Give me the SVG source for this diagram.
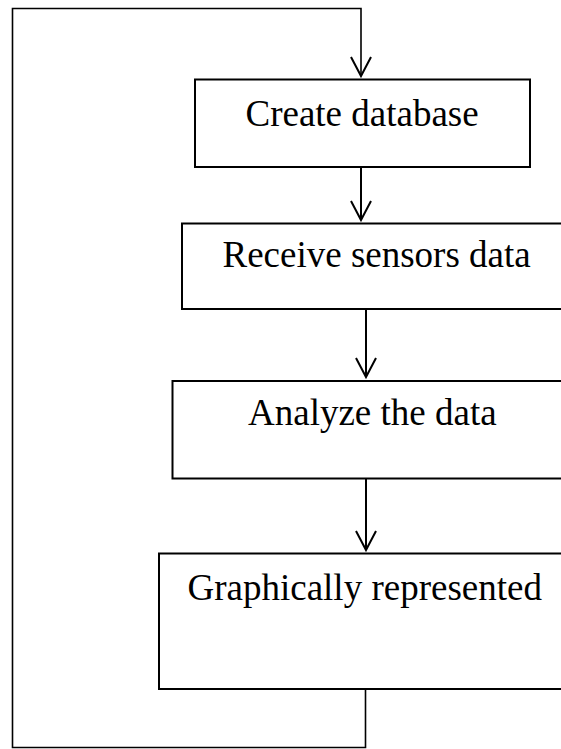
<svg xmlns="http://www.w3.org/2000/svg" width="561" height="749" viewBox="0 0 561 749">
<style>
.box{fill:#fff;stroke:#000;stroke-width:2}
.lbl{font-family:"Liberation Serif","Times New Roman",serif;font-size:37px;fill:#000}
.ln{fill:none;stroke:#000;stroke-width:2}
.loop{fill:none;stroke:#000;stroke-width:1.6}
</style>
<g id="connectors">
<path class="loop" d="M365.5,689 V747.5 H12.5 V8.5 H361 V76"/>
<path class="ln" d="M351,57 L361,76 L371,57"/>
<path class="ln" d="M361,167 V220"/>
<path class="ln" d="M351,201 L361,220 L371,201"/>
<path class="ln" d="M366,309 V377"/>
<path class="ln" d="M356,358 L366,377 L376,358"/>
<path class="ln" d="M366,478 V550"/>
<path class="ln" d="M356,531 L366,550 L376,531"/>
</g>
<g id="node1">
<rect class="box" x="195" y="79.5" width="335" height="87.5"/>
<text class="lbl" x="245.5" y="125.5">Create database</text>
</g>
<g id="node2">
<rect class="box" x="182" y="223.5" width="400" height="85.5"/>
<text class="lbl" x="222.5" y="267">Receive sensors data</text>
</g>
<g id="node3">
<rect class="box" x="172.5" y="381" width="410" height="97.5"/>
<text class="lbl" x="248" y="425">Analyze the data</text>
</g>
<g id="node4">
<rect class="box" x="159" y="553.5" width="420" height="135.5"/>
<text class="lbl" x="187.5" y="599.5">Graphically represented</text>
</g>
</svg>
